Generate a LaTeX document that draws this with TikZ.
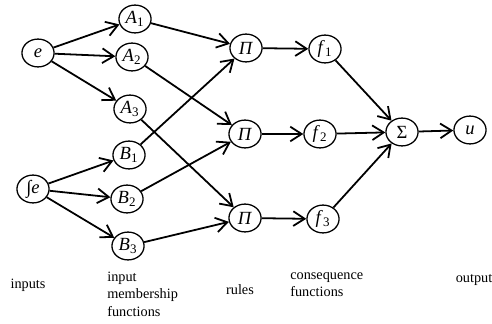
\documentclass[tikz,border=0pt]{standalone}
\usepackage{fontspec}
\setmainfont{Liberation Serif}
\usetikzlibrary{arrows.meta,shapes.geometric}
\tikzset{
 neuron/.style={
 ellipse,
 draw=black,
 line width=0.9pt,
 inner sep=0pt,
 minimum width=22.5pt,
 minimum height=19.5pt,
 font=\fontsize{13}{15}\selectfont
 },
 caption/.style={
 align=left,
 font=\normalsize,
 inner sep=0pt
 },
 link/.style={-{Straight Barb[length=2.8mm,width=3.6mm]}, line width=1.25pt, draw=black}
}
\newcommand{\lbl}[2]{\textit{#1}\textsubscript{#2}}

\begin{document}
\begin{tikzpicture}[x=0.7pt,y=-0.7pt]
 \useasboundingbox (0,0) rectangle (492,324);
 % input layer
 \node[neuron] (e) at (38,53) {\textit{e}};
 \node[neuron] (fe) at (33,189) {∫\textit{e}};
 % membership functions
 \node[neuron] (A1) at (135,19) {\lbl{A}{1}};
 \node[neuron] (A2) at (132,57) {\lbl{A}{2}};
 \node[neuron] (A3) at (130,109) {\lbl{A}{3}};
 \node[neuron] (B1) at (129,155) {\lbl{B}{1}};
 \node[neuron] (B2) at (127,199) {\lbl{B}{2}};
 \node[neuron] (B3) at (128,246) {\lbl{B}{3}};
 % rules
 \node[neuron] (P1) at (246,48) {\textit{Π}};
 \node[neuron] (P2) at (245,134) {\textit{Π}};
 \node[neuron] (P3) at (245,218) {\textit{Π}};
 % consequence functions
 \node[neuron] (f1) at (325,49) {\lbl{f}{1}};
 \node[neuron] (f2) at (320,134) {\lbl{f}{2}};
 \node[neuron] (f3) at (323,219) {\lbl{f}{3}};
 % output
 \node[neuron] (S) at (402,132) {Σ};
 \node[neuron] (u) at (470,130) {\textit{u}};

 \foreach \m in {A1,A2,A3} \draw[link] (e) -- (\m);
 \foreach \m in {B1,B2,B3} \draw[link] (fe) -- (\m);
 \draw[link] (A1) -- (P1);
 \draw[link] (B1) -- (P1);
 \draw[link] (A2) -- (P2);
 \draw[link] (B2) -- (P2);
 \draw[link] (A3) -- (P3);
 \draw[link] (B3) -- (P3);
 \draw[link] (P1) -- (f1);
 \draw[link] (P2) -- (f2);
 \draw[link] (P3) -- (f3);
 \foreach \f in {f1,f2,f3} \draw[link] (\f) -- (S);
 \draw[link] (S) -- (u);

 % layer captions
 \node[caption] (cin) at (28,285) {inputs};
 \node[caption, anchor=north west] (cmf) at (107,272) {input\\membership\\functions};
 \node[caption] (crule) at (240,290) {rules};
 \node[caption, anchor=north west] (ccon) at (290,272) {consequence\\functions};
 \node[caption] (cout) at (474,280) {output};
\end{tikzpicture}
\end{document}
